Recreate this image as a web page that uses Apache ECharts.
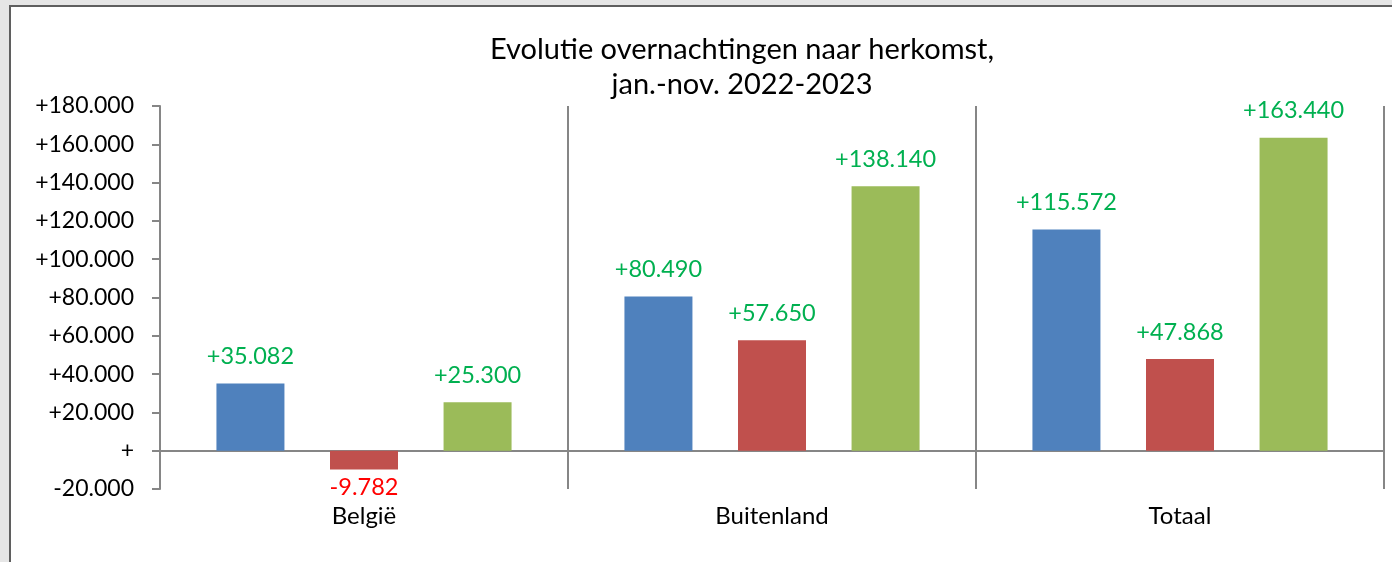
<!DOCTYPE html>
<html>
<head>
<meta charset="utf-8">
<script src="https://cdn.jsdelivr.net/npm/echarts@6/dist/echarts.min.js"></script>
<style>
  html, body { margin: 0; padding: 0; background: #e6e6e6; }
  #main { width: 1392px; height: 562px; }
</style>
</head>
<body>
<div id="main"></div>
<script>
var categories = ['België', 'Buitenland', 'Totaal'];
var seriesNames = ['reeks 1', 'reeks 2', 'reeks 3'];
var valuesBlue = [35082, 80490, 115572];
var valuesRed = [-9782, 57650, 47868];
var valuesGreen = [25300, 138140, 163440];
var colors = ['#4f81bd', '#c0504d', '#9bbb59'];
var titleLines = ['Evolutie overnachtingen naar herkomst,', 'jan.-nov. 2022-2023'];
var yMin = -20000, yMax = 180000, yStep = 20000;

var font = 'Lato';

// getal met punt als duizendtal scheiding en altijd een teken
function fmt(v) {
  if (v === 0) return '+';
  var s = String(Math.abs(v)).replace(/\B(?=(\d{3})+(?!\d))/g, '.');
  return (v > 0 ? '+' : '-') + s;
}

function makeData(arr) {
  var out = [];
  for (var i = 0; i < arr.length; i++) {
    var neg = arr[i] < 0;
    out.push({
      value: arr[i],
      label: {
        position: neg ? 'bottom' : 'top',
        distance: neg ? 6 : 15,
        color: neg ? '#ff0000' : '#00b050'
      }
    });
  }
  return out;
}

var allValues = [valuesBlue, valuesRed, valuesGreen];
var series = [];
for (var k = 0; k < allValues.length; k++) {
  series.push({
    name: seriesNames[k],
    type: 'bar',
    data: makeData(allValues[k]),
    barWidth: 68,
    barGap: '67%',
    itemStyle: { color: colors[k] },
    label: {
      show: true,
      fontFamily: font,
      fontSize: 23.5,
      formatter: function (p) { return fmt(p.value); }
    }
  });
}

var chart = echarts.init(document.getElementById('main'));
chart.setOption({
  backgroundColor: '#e6e6e6',
  animation: false,
  graphic: [{
    type: 'rect',
    z: -10,
    silent: true,
    shape: { x: 10, y: 6, width: 1500, height: 700 },
    style: { fill: '#ffffff', stroke: '#5f5f5f', lineWidth: 2 }
  }],
  title: {
    text: titleLines.join('\n'),
    left: 737,
    top: 27,
    textAlign: 'center',
    textStyle: {
      fontFamily: font,
      fontWeight: 'normal',
      fontSize: 29,
      lineHeight: 35,
      color: '#000000'
    }
  },
  grid: { left: 160, right: 8, top: 106, bottom: 73, outerBoundsMode: 'none' },
  xAxis: {
    type: 'category',
    data: categories,
    axisLine: { onZero: true, lineStyle: { color: '#868686', width: 2 } },
    axisTick: { show: false },
    splitLine: { show: true, lineStyle: { color: '#868686', width: 2 } },
    axisLabel: {
      fontFamily: font,
      fontSize: 24,
      color: '#000000',
      margin: 15
    }
  },
  yAxis: {
    type: 'value',
    min: yMin,
    max: yMax,
    interval: yStep,
    axisLine: { show: true, lineStyle: { color: '#868686', width: 2 } },
    axisTick: { show: true, length: 8, lineStyle: { color: '#868686', width: 2 } },
    splitLine: { show: false },
    axisLabel: {
      fontFamily: font,
      fontSize: 23,
      color: '#000000',
      margin: 26,
      formatter: fmt
    }
  },
  series: series
});
</script>
</body>
</html>
